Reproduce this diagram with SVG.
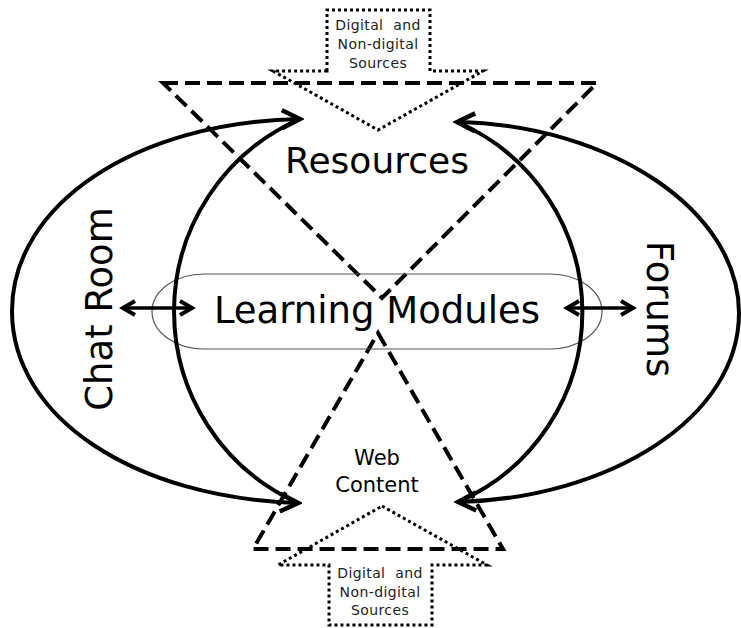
<svg xmlns="http://www.w3.org/2000/svg" width="741" height="628" viewBox="0 0 741 628">
<style>
text{font-family:"DejaVu Sans","Liberation Sans",sans-serif;fill:#000;text-anchor:middle}
.big{font-size:37px}
.small{font-size:14px;letter-spacing:0.4px;fill:#222}
.ws{word-spacing:5px}
.dot{fill:none;stroke:#000;stroke-width:3;stroke-dasharray:3 3}
.dash{fill:none;stroke:#000;stroke-width:4;stroke-dasharray:15 7;stroke-linejoin:miter}
.curve{fill:none;stroke:#000;stroke-width:4}
.dbl{fill:none;stroke:#000;stroke-width:3.5}
.pill{fill:none;stroke:#555;stroke-width:1.2}
</style>
<defs>
<marker id="arr" markerUnits="userSpaceOnUse" viewBox="-24 -14 28 28" refX="0" refY="0" markerWidth="28" markerHeight="28" orient="auto-start-reverse">
<path d="M-18,-9 L0,0 L-18,9" fill="none" stroke="#000" stroke-width="4.5"/>
</marker>
<marker id="arrs" markerUnits="userSpaceOnUse" viewBox="-18 -10 22 20" refX="0" refY="0" markerWidth="22" markerHeight="20" orient="auto-start-reverse">
<path d="M-12,-7 L0,0 L-12,7" fill="none" stroke="#000" stroke-width="4"/>
</marker>
</defs>
<g id="top-source">
<path class="dot" d="M327,71 L327,10 L430,10 L430,71 L483,71 L378,130 L273,71 Z"/>
<text class="small ws" x="378" y="30">Digital and</text>
<text class="small" x="378" y="49">Non-digital</text>
<text class="small" x="378" y="68">Sources</text>
</g>
<g id="bottom-source">
<path class="dot" d="M382,506 L487,565 L432,565 L432,625 L329,625 L329,565 L278,565 Z"/>
<text class="small ws" x="380" y="578">Digital and</text>
<text class="small" x="380" y="597">Non-digital</text>
<text class="small" x="380" y="615">Sources</text>
</g>
<g id="resources">
<path class="dash" d="M163,83 L597,83 L382,298 Z"/>
<text class="big" x="377" y="173" style="font-size:36px">Resources</text>
</g>
<g id="web-content">
<path class="dash" d="M378,333 L503,549 L253,549 Z"/>
<text x="377" y="465" style="font-size:21px">Web</text>
<text x="377" y="492" style="font-size:21px">Content</text>
</g>
<g id="learning-modules">
<rect class="pill" x="152" y="274" width="450" height="75" rx="52" ry="37.5"/>
<text class="big" x="377" y="323">Learning Modules</text>
</g>
<g id="chat-room">
<text class="big" transform="translate(112,309) rotate(-90)">Chat Room</text>
</g>
<g id="forums">
<text class="big" transform="translate(647,309) rotate(90)">Forums</text>
</g>
<g id="connectors">
<path class="curve" d="M300,119 C135,122 12,205 12,311 C12,418 135,498 298,503" marker-start="url(#arr)" marker-end="url(#arr)"/>
<path class="curve" d="M300,119 A210,210 0 0 0 298,503"/>
<path class="curve" d="M457,122 C610,125 739,210 739,313 C739,418 610,498 458,502" marker-start="url(#arr)" marker-end="url(#arr)"/>
<path class="curve" d="M457,122 A207,207 0 0 1 458,502"/>
<path class="dbl" d="M123,308 L192,308" marker-start="url(#arrs)" marker-end="url(#arrs)"/>
<path class="dbl" d="M567,308 L633,308" marker-start="url(#arrs)" marker-end="url(#arrs)"/>
</g>
</svg>
